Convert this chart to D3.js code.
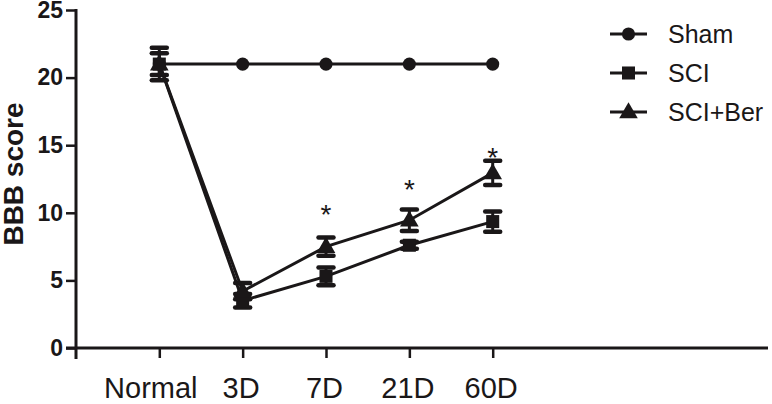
<!DOCTYPE html>
<html><head><meta charset="utf-8">
<script src="https://cdn.jsdelivr.net/npm/d3@7"></script>
<style>body{margin:0;background:#fff}svg{display:block}</style>
</head><body>
<svg id="c" width="772" height="404"></svg>
<script>
const categories = ["Normal", "3D", "7D", "21D", "60D"];
const yTicks = [0, 5, 10, 15, 20, 25];
const seriesNames = ["Sham", "SCI", "SCI+Ber"];
const shamValues = [21, 21, 21, 21, 21];
const shamErrors = [0, 0, 0, 0, 0];
const sciValues = [21, 3.5, 5.3, 7.6, 9.35];
const sciErrors = [0.8, 0.5, 0.65, 0.25, 0.75];
const berValues = [21, 4.2, 7.5, 9.45, 12.95];
const berErrors = [1.2, 0.6, 0.68, 0.8, 0.9];
const starCategories = ["7D", "21D", "60D"];
const starLevels = [10.2, 12.05, 14.4];

const ink = "#1a1718";
const font = "Liberation Sans, Arial, sans-serif";
const svg = d3.select("#c");
const x = d3.scalePoint().domain(categories).range([159.3, 492.7]);
const y = d3.scaleLinear().domain([0, 25]).range([348, 10]);

// axes
const yAxis = svg.append("g").attr("transform", "translate(76,0)")
  .call(d3.axisLeft(y).tickValues(yTicks).tickSize(10).tickPadding(3));
yAxis.select(".domain").remove();
yAxis.selectAll(".tick line").attr("stroke", ink).attr("stroke-width", 2.5);
yAxis.selectAll(".tick text").attr("fill", ink)
  .style("font-family", font).style("font-weight", "bold").style("font-size", "23px");
svg.append("line").attr("x1", 76).attr("x2", 76).attr("y1", y(25) - 1).attr("y2", 359)
  .attr("stroke", ink).attr("stroke-width", 3);

const xAxis = svg.append("g").attr("transform", "translate(0,348)")
  .call(d3.axisBottom(x).tickSize(10).tickPadding(19));
xAxis.select(".domain").remove();
xAxis.selectAll(".tick line").attr("stroke", ink).attr("stroke-width", 2.5);
xAxis.selectAll(".tick text").attr("fill", ink)
  .attr("dx", (d, i) => i === 0 ? -9 : -2)
  .style("font-family", font).style("font-size", "29px");
svg.append("line").attr("x1", 66).attr("x2", 768).attr("y1", y(0)).attr("y2", y(0))
  .attr("stroke", ink).attr("stroke-width", 3);

svg.append("text").attr("transform", "translate(23,174) rotate(-90)")
  .attr("text-anchor", "middle").attr("fill", ink)
  .style("font-family", font).style("font-weight", "bold").style("font-size", "28px")
  .text("BBB score");

const series = [
  {name: seriesNames[0], values: shamValues, errors: shamErrors, shape: "circle"},
  {name: seriesNames[1], values: sciValues, errors: sciErrors, shape: "square"},
  {name: seriesNames[2], values: berValues, errors: berErrors, shape: "triangle"}
];
const symbolOf = s => s === "circle" ? d3.symbol(d3.symbolCircle, 135)
  : s === "square" ? d3.symbol(d3.symbolSquare, 170) : d3.symbol(d3.symbolTriangle, 150);

const line = d3.line().x((d, i) => x(categories[i])).y(d => y(d));
const capW = 7.5;
series.forEach(s => {
  const g = svg.append("g");
  s.values.forEach((v, i) => {
    const e = s.errors[i];
    if (!e) return;
    const cx = x(categories[i]);
    g.append("line").attr("x1", cx).attr("x2", cx).attr("y1", y(v + e)).attr("y2", y(v - e))
      .attr("stroke", ink).attr("stroke-width", 3);
    [v + e, v - e].forEach(t => g.append("line")
      .attr("x1", cx - capW).attr("x2", cx + capW).attr("y1", y(t)).attr("y2", y(t))
      .attr("stroke", ink).attr("stroke-width", 4.5).attr("stroke-linecap", "round"));
  });
  g.append("path").attr("d", line(s.values)).attr("fill", "none")
    .attr("stroke", ink).attr("stroke-width", 3);
  s.values.forEach((v, i) => {
    g.append("path").attr("d", symbolOf(s.shape)())
      .attr("transform", `translate(${x(categories[i])},${y(v) + (s.shape === "triangle" ? 1 : 0)})`)
      .attr("fill", ink);
  });
});

// stars
starCategories.forEach((c, i) => {
  svg.append("text").attr("x", x(c)).attr("y", y(starLevels[i]) + 14)
    .attr("text-anchor", "middle").attr("fill", ink)
    .style("font-family", font).style("font-size", "28px").text("*");
});

// legend
const legY = [34, 73, 112];
series.forEach((s, i) => {
  const g = svg.append("g").attr("transform", `translate(0,${legY[i]})`);
  g.append("line").attr("x1", 610).attr("x2", 647).attr("y1", 0).attr("y2", 0)
    .attr("stroke", ink).attr("stroke-width", 3);
  g.append("path").attr("d", symbolOf(s.shape)())
    .attr("transform", `translate(628.5,${s.shape === "triangle" ? 1 : 0})`).attr("fill", ink);
  g.append("text").attr("x", 668).attr("y", 0).attr("dy", "0.35em").attr("fill", ink)
    .style("font-family", font).style("font-size", "25px").text(s.name);
});
</script>
</body></html>
